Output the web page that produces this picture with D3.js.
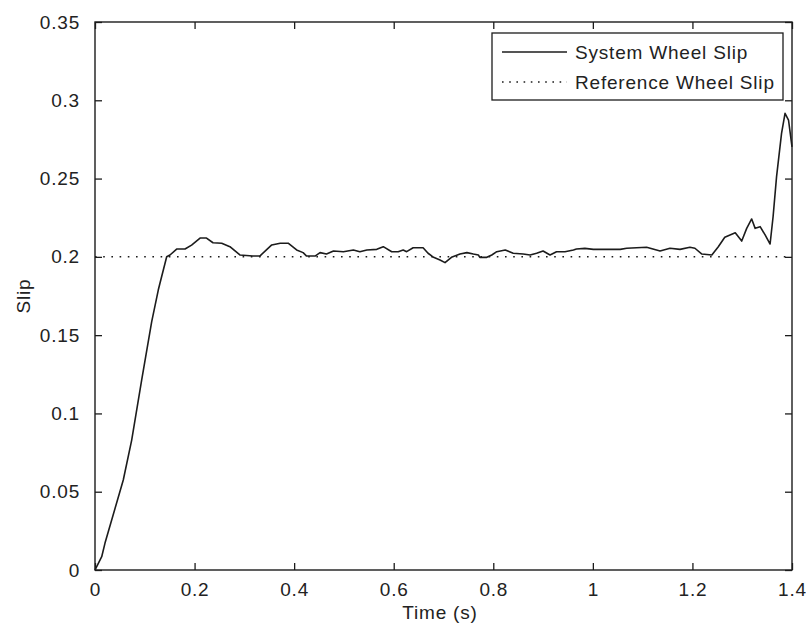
<!DOCTYPE html>
<html>
<head>
<meta charset="utf-8">
<script src="https://cdn.jsdelivr.net/npm/d3@7"></script>
<style>
  body { margin: 0; background: #fff; }
  text { font-family: "Liberation Sans", Arial, Helvetica, sans-serif; font-size: 19px; letter-spacing: 0.8px; fill: #222; }
</style>
</head>
<body>
<div id="chart"></div>
<script>
// time axis (s) and system wheel slip
var timeS = [0, 0.0034, 0.0135, 0.0201, 0.0568, 0.0737, 0.0938, 0.1139, 0.1271, 0.1306,
    0.144, 0.1506, 0.164, 0.1808, 0.194, 0.211, 0.224, 0.237, 0.2545, 0.271,
    0.291, 0.317, 0.331, 0.355, 0.372, 0.388, 0.405, 0.418, 0.425, 0.442,
    0.452, 0.465, 0.479, 0.499, 0.519, 0.532, 0.546, 0.566, 0.579, 0.596,
    0.609, 0.619, 0.626, 0.639, 0.659, 0.669, 0.680, 0.693, 0.703, 0.716,
    0.733, 0.747, 0.760, 0.770, 0.773, 0.787, 0.797, 0.807, 0.824, 0.840,
    0.860, 0.874, 0.887, 0.900, 0.914, 0.927, 0.944, 0.961, 0.967, 0.984,
    1.001, 1.055, 1.068, 1.108, 1.135, 1.155, 1.175, 1.195, 1.205, 1.219,
    1.239, 1.252, 1.265, 1.286, 1.299, 1.309, 1.319, 1.326, 1.336, 1.346,
    1.356, 1.362, 1.369, 1.379, 1.386, 1.393, 1.4];

var systemSlip = [0, 0.0021, 0.0085, 0.0172, 0.0575, 0.083, 0.1214, 0.1586, 0.1788, 0.1833,
    0.2001, 0.2012, 0.205, 0.205, 0.2075, 0.212, 0.212, 0.209, 0.2087, 0.2065,
    0.2012, 0.2005, 0.2005, 0.2076, 0.2087, 0.2087, 0.2044, 0.2027, 0.2005, 0.2005,
    0.2027, 0.2018, 0.2037, 0.2033, 0.2044, 0.2033, 0.2044, 0.2048, 0.2065, 0.2033,
    0.2033, 0.2044, 0.2033, 0.2058, 0.2058, 0.2023, 0.1997, 0.198, 0.1963, 0.1997,
    0.2018, 0.2027, 0.2018, 0.2012, 0.1997, 0.1997, 0.2012, 0.2033, 0.2044, 0.2023,
    0.2018, 0.2012, 0.2023, 0.2037, 0.2012, 0.2033, 0.2033, 0.2044, 0.205, 0.2054,
    0.2048, 0.2048, 0.2055, 0.2061, 0.2037, 0.2055, 0.2048, 0.2061, 0.2055, 0.2018,
    0.2012, 0.2065, 0.2125, 0.2154, 0.2101, 0.2182, 0.2242, 0.2182, 0.2193, 0.214,
    0.2082, 0.2256, 0.2512, 0.2789, 0.2917, 0.2874, 0.2703];

var refTime = [0, 1.4];
var refSlip = [0.2, 0.2];

var xTicks = [0, 0.2, 0.4, 0.6, 0.8, 1, 1.2, 1.4];
var yTicks = [0, 0.05, 0.1, 0.15, 0.2, 0.25, 0.3, 0.35];
var legendNames = ["System Wheel Slip", "Reference Wheel Slip"];

var W = 806, H = 628;
var m = {left: 95, top: 22, right: 14, bottom: 58};
var w = W - m.left - m.right;
var h = H - m.top - m.bottom;
var ink = "#1c1c1c";

var svg = d3.select("#chart").append("svg").attr("width", W).attr("height", H);
var g = svg.append("g").attr("transform", "translate(" + m.left + "," + m.top + ")");

var x = d3.scaleLinear().domain([0, 1.4]).range([0, w]);
var y = d3.scaleLinear().domain([0, 0.35]).range([h, 0]);

function fmt(d) { return d3.format("")(+d.toFixed(2)); }

// axes, ticks inward on all four sides (matlab box)
var tl = 7;
g.append("g").attr("transform", "translate(0," + h + ")")
    .call(d3.axisBottom(x).tickValues(xTicks).tickFormat(fmt).tickSize(-tl).tickPadding(13));
g.append("g")
    .call(d3.axisLeft(y).tickValues(yTicks).tickFormat(fmt).tickSize(-tl).tickPadding(15));
g.append("g")
    .call(d3.axisTop(x).tickValues(xTicks).tickFormat("").tickSize(-tl));
g.append("g").attr("transform", "translate(" + w + ",0)")
    .call(d3.axisRight(y).tickValues(yTicks).tickFormat("").tickSize(-tl));

g.selectAll(".domain").remove();
g.selectAll(".tick line").attr("stroke", ink).attr("stroke-width", 1.3);
g.selectAll(".tick text").attr("fill", ink).style("font-size", "19px")
    .style("font-family", '"Liberation Sans", Arial, sans-serif');

g.append("rect").attr("width", w).attr("height", h)
    .attr("fill", "none").attr("stroke", ink).attr("stroke-width", 1.4);

// lines
var line = d3.line()
    .x(function (d) { return x(d[0]); })
    .y(function (d) { return y(d[1]); });

g.append("path")
    .datum(d3.zip(refTime, refSlip))
    .attr("d", line)
    .attr("fill", "none").attr("stroke", ink).attr("stroke-width", 1.5)
    .attr("stroke-dasharray", "1.6,6.6");

g.append("path")
    .datum(d3.zip(timeS, systemSlip))
    .attr("d", line)
    .attr("fill", "none").attr("stroke", ink).attr("stroke-width", 1.6)
    .attr("stroke-linejoin", "round");

// axis labels
svg.append("text").attr("x", 440).attr("y", 619)
    .attr("text-anchor", "middle").text("Time (s)");
svg.append("text").attr("transform", "translate(30," + (m.top + h / 2) + ") rotate(-90)")
    .attr("text-anchor", "middle").text("Slip");

// legend
var lg = svg.append("g").attr("transform", "translate(492,33)");
lg.append("rect").attr("width", 291).attr("height", 67)
    .attr("fill", "#fff").attr("stroke", ink).attr("stroke-width", 1.3);
var rows = lg.selectAll("g.row").data(legendNames).enter().append("g")
    .attr("class", "row")
    .attr("transform", function (d, i) { return "translate(0," + (19 + i * 30) + ")"; });
rows.append("line").attr("x1", 10).attr("x2", 75)
    .attr("stroke", ink).attr("stroke-width", 1.5)
    .attr("stroke-dasharray", function (d, i) { return i == 1 ? "1.6,5.6" : null; });
rows.append("text").attr("x", 83).attr("y", 7).text(function (d) { return d; });
</script>
</body>
</html>
